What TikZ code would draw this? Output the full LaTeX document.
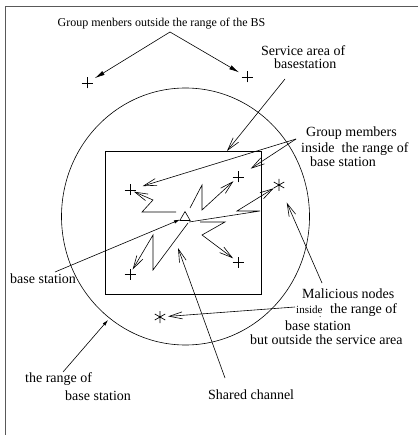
\documentclass[tikz,border=0pt]{standalone}
\usepackage{fontspec}
\setmainfont{Liberation Serif}
\usetikzlibrary{arrows.meta,shapes.geometric}
\begin{document}
\begin{tikzpicture}[x=1pt,y=-1pt,
  ln/.style={line width=0.6pt},
  openarr/.style={ln,-{Straight Barb[length=13pt,width=7pt,line width=0.6pt]}},
  fillarr/.style={ln,-{Latex[length=10pt,width=4.5pt]}},
  smallarr/.style={ln,-{Latex[length=6pt,width=3.5pt]}},
  lbl/.style={font=\fontsize{14}{16}\selectfont, inner sep=0pt, anchor=base west},
  plusm/.style={circle,minimum size=14pt,inner sep=0pt,
    path picture={\draw[line width=0.7pt]
      ([xshift=-5.5pt]path picture bounding box.center) -- ([xshift=5.5pt]path picture bounding box.center)
      ([yshift=-5.5pt]path picture bounding box.center) -- ([yshift=5.5pt]path picture bounding box.center);}},
  starm/.style={circle,minimum size=14pt,inner sep=0pt,
    path picture={\draw[line width=0.7pt]
      ([shift={(90:6pt)}]path picture bounding box.center) -- ([shift={(270:6pt)}]path picture bounding box.center)
      ([shift={(30:6pt)}]path picture bounding box.center) -- ([shift={(210:6pt)}]path picture bounding box.center)
      ([shift={(150:6pt)}]path picture bounding box.center) -- ([shift={(330:6pt)}]path picture bounding box.center);}}
]
\useasboundingbox (0,0) rectangle (418,435);
% frame
\draw[gray!70!black, line width=1pt] (418,7) -- (5,7) -- (5,435);

% range of base station and service area
\node[draw, ln, ellipse, minimum width=248pt, minimum height=257pt, inner sep=0pt] (rng) at (185.5,216.5) {};
\node[draw, ln, rectangle, minimum width=156pt, minimum height=143pt, inner sep=0pt] (svc) at (183,222.5) {};

% outside group members
\node[font=\fontsize{12}{14}\selectfont, inner sep=0pt] (gtop) at (161.5,24) {Group menbers outside the range of the BS};
\coordinate (apex) at (170,32);
\node[plusm] (p1) at (87,83) {};
\node[plusm] (p2) at (247,77) {};
\draw[fillarr, shorten >=2pt] (apex) -- (p1);
\draw[fillarr, shorten >=2pt] (apex) -- (p2);

% service area label
\node[lbl] (svc1) at (261,56) {Service area of};
\node[lbl] (svc2) at (274,69) {basestation};
\coordinate (svcs) at (285,79);
\coordinate (svct) at (227,151);
\draw[openarr] (svcs) -- (svct);

% inside group members
\node[lbl] (gi1) at (306,137) {Group members};
\node[lbl] (gi2) at (301,153) {inside\ \ the range of};
\node[lbl] (gi3) at (310,167) {base station};
\coordinate (gis) at (296,139);
\node[plusm] (p3) at (130,190) {};
\node[plusm] (p4) at (238,177) {};
\node[plusm] (p5) at (238,262) {};
\node[plusm] (p6) at (130,274) {};
\draw[openarr, shorten >=6pt] (gis) -- (p3);
\draw[openarr, shorten >=8pt] (gis) -- (p4);

% malicious nodes
\node[starm] (s1) at (279,185) {};
\node[starm] (s2) at (160,317) {};

% base station
\node[draw, ln, regular polygon, regular polygon sides=3, minimum size=12pt, inner sep=0pt] (bs) at (185,217.5) {};
\node[lbl] (bsl) at (10,283) {base station};
\coordinate (bsls) at (55,272);
\draw[smallarr] (bsls) -- (bs);

% shared channel zigzags
\coordinate (z1s) at (176,212);
\coordinate (z2s) at (190,208);
\coordinate (z3s) at (200,222);
\coordinate (z4s) at (189,222);
\coordinate (z5s) at (188,223);
\draw[openarr, shorten >=-3pt] (z1s) -- (142,212) -- (153,200) -- (p3);
\draw[openarr, shorten >=-1pt] (z2s) -- (202,185) -- (202,210) -- (p4);
\draw[openarr, shorten >=-1pt] (z3s) -- (225,222) -- (202,235) -- (p5);
\draw[openarr, shorten >=-1pt] (z4s) -- (260,211) -- (237,211) -- (s1);
\draw[openarr, shorten >=-2pt] (z5s) -- (153,270) -- (153,235) -- (p6);

% shared channel label
\node[lbl] (shc) at (208,399) {Shared channel};
\coordinate (shs) at (225,378);
\coordinate (sht) at (178,248);
\draw[openarr] (shs) -- (sht);

% malicious label
\node[lbl] (m1) at (302,298) {Malicious nodes};
\node[font=\fontsize{11}{13}\selectfont, inner sep=0pt, anchor=base west] (m2a) at (296,313) {inside};
\node[lbl] (m2b) at (330,313) {the range of};
\fill (320,316.5) circle (0.5pt);
\node[lbl] (m3) at (285,330) {base station};
\node[lbl] (m4) at (250,344) {but outside the service area};
\coordinate (ms) at (322,283);
\coordinate (ms2) at (295,307);
\draw[openarr, shorten >=12pt] (ms) -- (s1);
\draw[openarr, shorten >=1pt] (ms2) -- (s2);

% range label
\node[lbl] (r1) at (25,382) {the range of};
\node[lbl] (r2) at (65,400) {base station};
\coordinate (rs) at (63,372);
\coordinate (rt) at (108,320);
\draw[smallarr] (rs) -- (rt);
\end{tikzpicture}
\end{document}
